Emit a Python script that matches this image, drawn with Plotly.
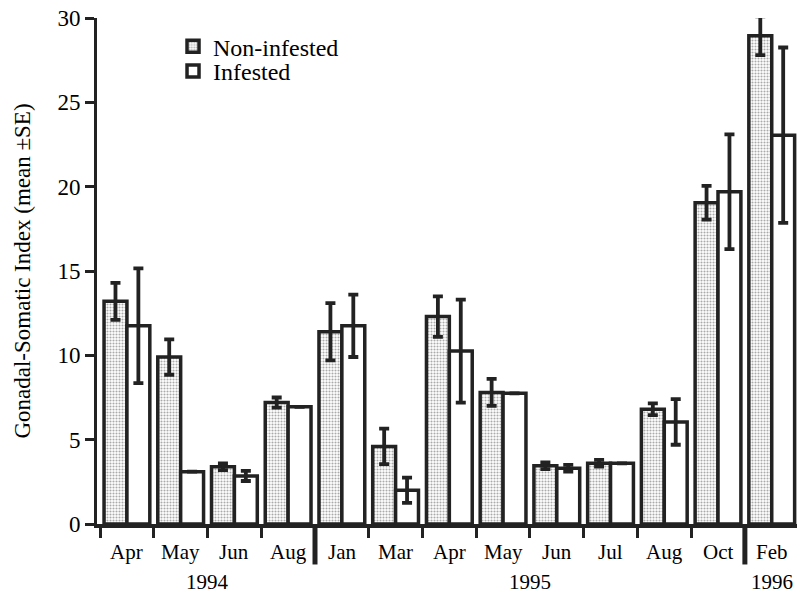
import plotly.graph_objects as go

months = ["Apr", "May", "Jun", "Aug", "Jan", "Mar", "Apr", "May", "Jun", "Jul", "Aug", "Oct", "Feb"]
years = ["1994"] * 4 + ["1995"] * 8 + ["1996"]

non_infested = [13.2, 9.9, 3.4, 7.2, 11.4, 4.6, 12.3, 7.8, 3.45, 3.6, 6.8, 19.05, 28.95]
non_infested_se = [1.1, 1.05, 0.2, 0.3, 1.7, 1.05, 1.2, 0.8, 0.2, 0.2, 0.35, 1.0, 1.15]
infested = [11.75, 3.1, 2.85, 6.95, 11.75, 2.0, 10.25, 7.75, 3.3, 3.6, 6.05, 19.7, 23.05]
infested_se = [3.4, None, 0.3, None, 1.85, 0.75, 3.05, None, 0.2, None, 1.35, 3.4, 5.2]

xs = list(range(len(months)))
FONT = "Liberation Serif"
DARK = "#222222"

fig = go.Figure()
fig.add_trace(go.Bar(
    x=xs, y=non_infested, name="Non-infested", legend="legend",
    marker=dict(color="white", line=dict(color=DARK, width=3.5),
                pattern=dict(shape=".", fgcolor="#555555", bgcolor="white", size=3, solidity=0.4)),
    error_y=dict(type="data", array=non_infested_se, visible=True, thickness=3.8, width=5, color=DARK),
))
fig.add_trace(go.Bar(
    x=xs, y=infested, name="Infested", legend="legend2",
    marker=dict(color="white", line=dict(color=DARK, width=3.5)),
    error_y=dict(type="data", array=infested_se, visible=True, thickness=3.8, width=5, color=DARK),
))

# boundaries between groups
bounds = [i - 0.5 for i in range(len(months))]
year_seps = [i - 0.5 for i in range(1, len(years)) if years[i] != years[i - 1]]

shapes = []
for b in year_seps:
    shapes.append(dict(type="line", xref="x", yref="paper", x0=b, x1=b, y0=0, y1=-0.08,
                       line=dict(color=DARK, width=5)))

annotations = []
for i, m in enumerate(months):
    annotations.append(dict(x=i, y=-0.055, xref="x", yref="paper", text=m, showarrow=False,
                            font=dict(family=FONT, size=21, color="black"), yanchor="middle"))
seen = []
for y in years:
    if y not in seen:
        seen.append(y)
for y in seen:
    idx = [i for i, v in enumerate(years) if v == y]
    cx = (idx[0] + idx[-1]) / 2
    annotations.append(dict(x=cx, y=-0.1146, xref="x", yref="paper", text=y, showarrow=False,
                            font=dict(family=FONT, size=21, color="black"), yanchor="middle"))

legend_common = dict(xanchor="left", yanchor="top", bgcolor="rgba(0,0,0,0)",
                     font=dict(family=FONT, size=24, color="black"), itemwidth=30)

fig.update_layout(
    width=797, height=593,
    margin=dict(l=97, r=0, t=18, b=69, autoexpand=False),
    paper_bgcolor="white", plot_bgcolor="white",
    barmode="group", bargap=0.148, bargroupgap=0,
    font=dict(family=FONT, size=21, color="black"),
    showlegend=True,
    legend=dict(x=0.1086, y=0.988, **legend_common),
    legend2=dict(x=0.1086, y=0.939, **legend_common),
    shapes=shapes,
    annotations=annotations,
)
fig.update_xaxes(range=[-0.557, 12.47], tickvals=bounds, ticktext=[""] * len(bounds),
                 ticks="outside", ticklen=10, tickwidth=2.5, tickcolor=DARK, automargin=False,
                 showline=True, linewidth=4, linecolor=DARK, showgrid=False, zeroline=False)
fig.update_yaxes(range=[0, 30], tickvals=[0, 5, 10, 15, 20, 25, 30],
                 ticks="outside", ticklen=9, tickwidth=2.5, tickcolor=DARK, automargin=False,
                 ticklabeloverflow="allow",
                 showline=True, linewidth=3, linecolor=DARK, showgrid=False, zeroline=False,
                 tickfont=dict(family=FONT, size=23, color="black"),
                 title=dict(text="Gonadal-Somatic Index (mean ±SE)", font=dict(family=FONT, size=23, color="black"),
                            standoff=21))

# remove the browser's default page margin so the 797x593 figure fills the window exactly
fig.write_html("out.html", config={"displayModeBar": False},
               post_script="document.body.style.margin='0';document.documentElement.style.overflow='hidden';")
